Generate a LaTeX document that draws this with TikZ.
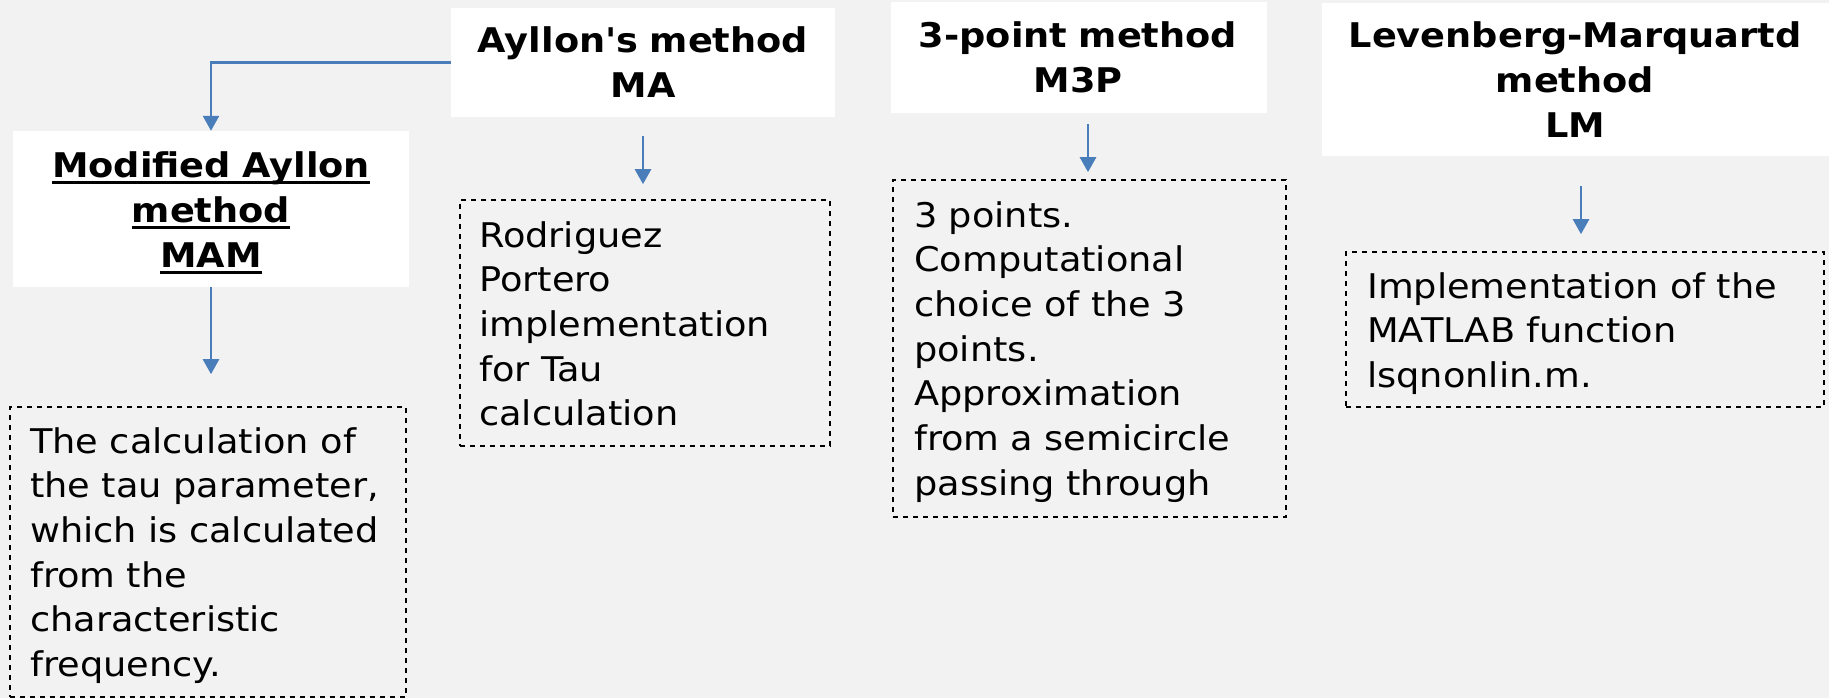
\documentclass[tikz,border=0pt]{standalone}
\usepackage{fontspec}
\setmainfont{DejaVu Sans}[FakeStretch=1.08, Ligatures=TeXOff]
\usetikzlibrary{arrows.meta}
\definecolor{bgc}{HTML}{F2F2F2}
\definecolor{arr}{HTML}{4A7EBB}
\newsavebox{\myulsave}
\newcommand{\myuline}[1]{\leavevmode\sbox{\myulsave}{#1}\rlap{\rule[-5.8pt]{\wd\myulsave}{2.8pt}}\usebox{\myulsave}}
\tikzset{
  hdrbox/.style={fill=white, draw=none, inner sep=0pt},
  dbox/.style={draw=black, line width=1.6pt, dash pattern=on 5pt off 5pt, inner sep=0pt},
  htext/.style={inner sep=0pt, font=\bfseries\fontsize{34}{45}\selectfont, align=center, text width=500pt, anchor=base},
  btext/.style={inner sep=0pt, font=\fontsize{34}{44.7}\selectfont, align=left, text width=460pt, anchor=base west},
  conn/.style={draw=arr, line width=2.6pt, -{Triangle[length=15pt,width=16pt]}}
}
\begin{document}
\begin{tikzpicture}[x=1pt,y=-1pt]
\fill[bgc] (0,0) rectangle (1829,698);
\useasboundingbox (0,0) rectangle (1829,698);
% header boxes
\node[hdrbox, minimum width=384pt, minimum height=109pt] (MA) at (643,62.5) {};
\node[hdrbox, minimum width=396pt, minimum height=156pt] (MAM) at (211,209) {};
\node[hdrbox, minimum width=376pt, minimum height=111pt] (M3P) at (1079,57.5) {};
\node[hdrbox, minimum width=507pt, minimum height=153pt] (LM) at (1575.5,79.5) {};
% dashed boxes
\node[dbox, minimum width=370pt, minimum height=246pt] (DMA) at (645,323) {};
\node[dbox, minimum width=396pt, minimum height=290pt] (DMAM) at (208,552) {};
\node[dbox, minimum width=393pt, minimum height=337pt] (DM3P) at (1089.5,348.5) {};
\node[dbox, minimum width=478pt, minimum height=155pt] (DLM) at (1585,329.5) {};
% header texts
\node[htext] (tMA) at (643,53) {Ayllon's method\\MA};
\node[htext] (tMAM) at (211,178) {\myuline{Modified Ayllon}\\\myuline{method}\\\myuline{MAM}};
\node[htext] (tM3P) at (1078,48) {3-point method\\M3P};
\node[htext] (tLM) at (1575,48) {Levenberg-Marquartd\\method\\LM};
% body texts
\node[btext] (bMA) at (479,247) {Rodriguez\\Portero\\implementation\\for Tau\\calculation};
\node[btext] (bMAM) at (30,453) {The calculation of\\the tau parameter,\\which is calculated\\from the\\characteristic\\frequency.};
\node[btext] (bM3P) at (914,227) {3 points.\\Computational\\choice of the 3\\points.\\Approximation\\from a semicircle\\passing through};
\node[btext] (bLM) at (1367,298) {Implementation of the\\MATLAB function\\lsqnonlin.m.};
% connectors
\draw[conn] (MA.west) -| (MAM.north);
\draw[conn, shorten <=19pt, shorten >=15pt] (MA.south) -- (MA.south |- DMA.north);
\draw[conn, shorten >=32pt] (MAM.south) -- (MAM.south |- DMAM.north);
\coordinate (c3) at (1088,113);
\coordinate (c4) at (1581,156);
\draw[conn, shorten <=11pt, shorten >=7pt] (c3) -- (c3 |- DM3P.north);
\draw[conn, shorten <=30pt, shorten >=17pt] (c4) -- (c4 |- DLM.north);
\end{tikzpicture}
\end{document}
